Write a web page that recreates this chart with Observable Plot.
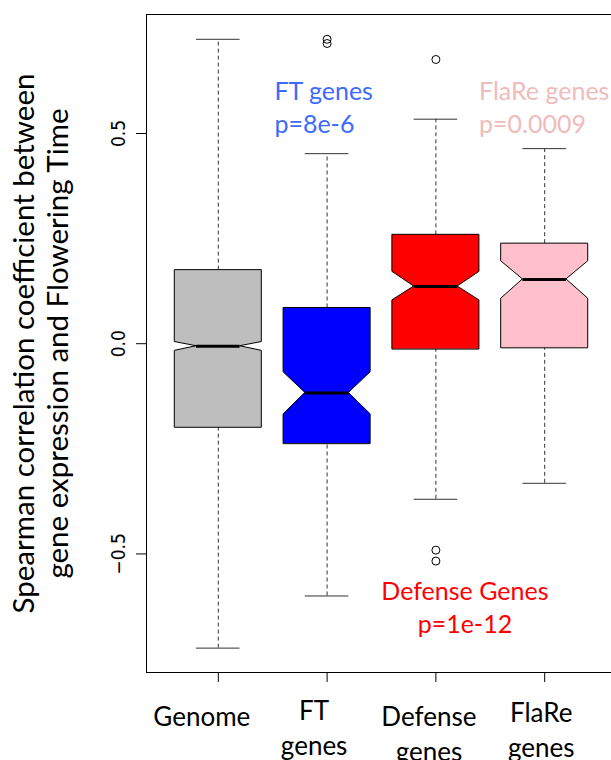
<!DOCTYPE html>
<html><head><meta charset="utf-8">
<script src="https://cdn.jsdelivr.net/npm/d3@7"></script>
<script src="https://cdn.jsdelivr.net/npm/@observablehq/plot@0.6"></script>
<style>
html,body{margin:0;padding:0;background:#fff;overflow:hidden;}
</style></head><body><div id="chart"></div>
<script>
// ---- data ----
const categories = ["Genome", "FT genes", "Defense genes", "FlaRe genes"];
const axisLabels = ["Genome", "FT\ngenes", "Defense\ngenes", "FlaRe\ngenes"];
const whiskerLow  = [-0.724, -0.600, -0.370, -0.332];
const q1          = [-0.199, -0.238, -0.013, -0.010];
const notchLow    = [-0.017, -0.168,  0.103,  0.107];
const median      = [-0.006, -0.117,  0.136,  0.153];
const notchHigh   = [ 0.004, -0.068,  0.171,  0.196];
const q3          = [ 0.175,  0.085,  0.259,  0.238];
const whiskerHigh = [ 0.724,  0.452,  0.534,  0.464];
const outlierCategory = ["FT genes", "FT genes", "Defense genes", "Defense genes", "Defense genes"];
const outlierValue    = [0.724, 0.714, 0.676, -0.491, -0.517];
const yTicks = [-0.5, 0, 0.5];
const annotations = [
  {category: "FT genes", text: "FT genes\np=8e-6"},
  {category: "FlaRe genes", text: "FlaRe genes\np=0.0009"},
  {category: "Defense genes", text: "Defense Genes\np=1e-12"}
];
const yTitle = "Spearman correlation coefficient between\ngene expression and Flowering Time";

// ---- style ----
const fills = ["#BEBEBE", "#0000FF", "#FF0000", "#FFC0CB"];
const boxHalf = 0.4, notchHalf = 0.2, capHalf = 0.2;
const textFont = "Lato, 'Open Sans', sans-serif";
const tickFont = "'Liberation Sans Narrow', 'DejaVu Sans Condensed', 'Liberation Sans', sans-serif";

const posOf = c => categories.indexOf(c) + 1;
const stats = categories.map((c, i) => ({
  c, x: i + 1, lo: whiskerLow[i], q1: q1[i], nl: notchLow[i], med: median[i],
  nh: notchHigh[i], q3: q3[i], hi: whiskerHigh[i]
}));
const outliers = outlierValue.map((v, i) => ({x: posOf(outlierCategory[i]), v}));

const boxMarks = stats.map((s, i) => {
  const pts = [[s.q1, boxHalf], [s.nl, boxHalf], [s.med, notchHalf], [s.nh, boxHalf], [s.q3, boxHalf]]
    .map(([y, h]) => ({y, x1: s.x - h, x2: s.x + h}));
  return Plot.areaX(pts, {y: "y", x1: "x1", x2: "x2", fill: fills[i], stroke: "black", strokeWidth: 1, curve: "linear"});
});

const labelDx = [-16.5, -13, -7, -3.5];
const labelDy = [53, 82.5, 88, 84.5];
const labelMarks = axisLabels.map((t, i) => Plot.text([t], {
  x: i + 1, frameAnchor: "bottom", text: d => d, dx: labelDx[i], dy: labelDy[i],
  textAnchor: "middle", lineAnchor: "bottom", lineHeight: 35 / 26,
  fontSize: 26, fontFamily: textFont, fill: "black"
}));

const annStyle = [
  {dx: -52.7, frameAnchor: "top", dy: 118, textAnchor: "start", fill: "#3B6CFF"},
  {dx: -65.7, frameAnchor: "top", dy: 118.3, textAnchor: "start", fill: "#F0BBBB"},
  {dx: 29, frameAnchor: "bottom", dy: -39.3, textAnchor: "middle", fill: "#FF0000"}
];
const annMarks = annotations.map((a, i) => Plot.text([a], {
  x: posOf(a.category), text: "text", lineAnchor: "bottom", lineHeight: 33 / 25,
  fontSize: 25, fontFamily: textFont, ...annStyle[i]
}));

const chart = Plot.plot({
  width: 611, height: 760,
  marginLeft: 146, marginRight: -5, marginTop: 14, marginBottom: 88,
  x: {domain: [0.34, 4.66]},
  y: {domain: [-0.782, 0.783]},
  style: {background: "white"},
  marks: [
    Plot.ruleX(stats, {x: "x", y1: "q3", y2: "hi", stroke: "#333", strokeDasharray: "4,3"}),
    Plot.ruleX(stats, {x: "x", y1: "lo", y2: "q1", stroke: "#333", strokeDasharray: "4,3"}),
    Plot.ruleY(stats, {y: "hi", x1: d => d.x - capHalf, x2: d => d.x + capHalf, stroke: "#333"}),
    Plot.ruleY(stats, {y: "lo", x1: d => d.x - capHalf, x2: d => d.x + capHalf, stroke: "#333"}),
    ...boxMarks,
    Plot.ruleY(stats, {y: "med", x1: d => d.x - notchHalf, x2: d => d.x + notchHalf, stroke: "black", strokeWidth: 3}),
    Plot.dot(outliers, {x: "x", y: "v", r: 4, stroke: "black", fill: "none", strokeWidth: 1}),
    Plot.frame({stroke: "black"}),
    Plot.axisX({ticks: stats.map(s => s.x), tickSize: 10, tickFormat: () => "", label: null, stroke: "black"}),
    Plot.axisY({ticks: yTicks, tickSize: 10, tickPadding: 12, tickRotate: -90, tickFormat: d3.format(".1f"),
      label: null, fontSize: 19, fontFamily: tickFont, fill: "black", stroke: "black"}),
    Plot.text([yTitle], {frameAnchor: "left", text: d => d, rotate: -90, dx: -79,
      textAnchor: "middle", lineAnchor: "bottom", lineHeight: 34 / 29.5, fontSize: 29.5, fontFamily: textFont, fill: "black"}),
    ...labelMarks,
    ...annMarks
  ]
});
document.getElementById("chart").appendChild(chart);
</script></body></html>
